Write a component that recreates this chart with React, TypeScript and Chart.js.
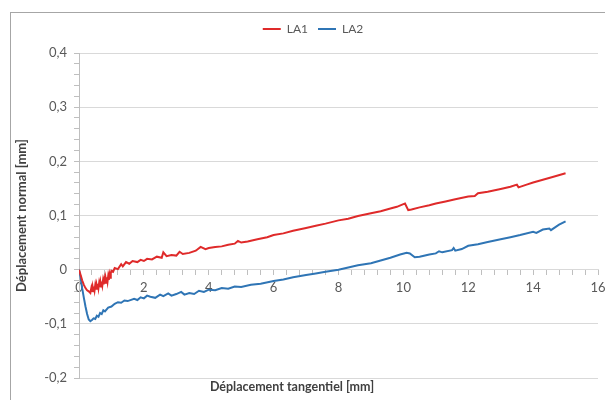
import React, { useEffect, useRef } from 'react';
import { Chart, registerables } from 'chart.js';

Chart.register(...registerables);

const seriesNames = ['LA1', 'LA2'];
const seriesColors = ['#df2a2a', '#2f75b5'];

const la1X = [0, 0.05, 0.1, 0.15, 0.2, 0.25, 0.3, 0.35, 0.38, 0.4, 0.42, 0.44, 0.46, 0.48, 0.5, 0.52, 0.54, 0.56, 0.58, 0.6, 0.62, 0.64, 0.66, 0.68, 0.7, 0.72, 0.74, 0.76, 0.78, 0.8, 0.82, 0.84, 0.86, 0.88, 0.9, 0.92, 0.94, 0.96, 0.98, 1.0, 1.05, 1.1, 1.2, 1.3, 1.35, 1.45, 1.55, 1.65, 1.8, 1.9, 2.0, 2.1, 2.25, 2.4, 2.55, 2.6, 2.7, 2.85, 3.0, 3.1, 3.2, 3.4, 3.6, 3.75, 3.9, 4.0, 4.2, 4.4, 4.6, 4.8, 4.9, 5.0, 5.2, 5.5, 5.8, 6.0, 6.3, 6.6, 7.0, 7.3, 7.6, 8.0, 8.3, 8.6, 9.0, 9.3, 9.6, 9.8, 10.0, 10.05, 10.15, 10.25, 10.5, 10.8, 11.0, 11.3, 11.6, 12.0, 12.2, 12.3, 12.6, 13.0, 13.3, 13.5, 13.55, 13.8, 14.0, 14.3, 14.6, 15.0];
const la1Y = [0, -0.01, -0.02, -0.028, -0.034, -0.038, -0.04, -0.043, -0.034, -0.041, -0.032, -0.04, -0.031, -0.038, -0.029, -0.037, -0.028, -0.035, -0.026, -0.034, -0.025, -0.032, -0.023, -0.031, -0.022, -0.029, -0.02, -0.027, -0.018, -0.026, -0.016, -0.024, -0.014, -0.022, -0.012, -0.019, -0.009, -0.015, -0.006, -0.002, -0.004, 0.003, 0.001, 0.01, 0.006, 0.014, 0.011, 0.016, 0.014, 0.018, 0.016, 0.02, 0.019, 0.024, 0.022, 0.032, 0.025, 0.027, 0.026, 0.033, 0.029, 0.031, 0.035, 0.042, 0.038, 0.04, 0.042, 0.043, 0.046, 0.048, 0.053, 0.05, 0.052, 0.056, 0.06, 0.064, 0.067, 0.072, 0.077, 0.081, 0.085, 0.091, 0.094, 0.099, 0.104, 0.108, 0.113, 0.116, 0.121, 0.122, 0.11, 0.111, 0.115, 0.119, 0.122, 0.126, 0.13, 0.135, 0.136, 0.141, 0.144, 0.149, 0.153, 0.157, 0.152, 0.157, 0.161, 0.166, 0.171, 0.178];

const la2X = [0, 0.05, 0.1, 0.15, 0.2, 0.25, 0.3, 0.35, 0.4, 0.45, 0.5, 0.55, 0.6, 0.65, 0.7, 0.75, 0.8, 0.9, 1.0, 1.1, 1.2, 1.3, 1.4, 1.5, 1.7, 1.8, 1.9, 2.0, 2.1, 2.2, 2.35, 2.5, 2.6, 2.75, 2.85, 3.0, 3.15, 3.25, 3.4, 3.55, 3.7, 3.85, 4.0, 4.2, 4.4, 4.6, 4.8, 5.0, 5.3, 5.6, 6.0, 6.3, 6.6, 7.0, 7.3, 7.6, 8.0, 8.3, 8.6, 9.0, 9.3, 9.6, 9.9, 10.1, 10.2, 10.35, 10.5, 10.8, 11.0, 11.1, 11.2, 11.5, 11.55, 11.6, 11.8, 12.0, 12.3, 12.6, 13.0, 13.3, 13.6, 14.0, 14.1, 14.3, 14.5, 14.55, 14.8, 15.0];
const la2Y = [0, -0.015, -0.035, -0.052, -0.068, -0.082, -0.092, -0.095, -0.093, -0.09, -0.091, -0.085, -0.087, -0.08, -0.082, -0.075, -0.077, -0.07, -0.068, -0.063, -0.06, -0.061, -0.057, -0.058, -0.054, -0.056, -0.051, -0.053, -0.048, -0.05, -0.052, -0.046, -0.049, -0.044, -0.048, -0.045, -0.041, -0.046, -0.043, -0.045, -0.039, -0.041, -0.037, -0.038, -0.034, -0.035, -0.031, -0.032, -0.028, -0.026, -0.021, -0.018, -0.014, -0.01, -0.007, -0.004, 0.0, 0.004, 0.008, 0.012, 0.017, 0.022, 0.028, 0.031, 0.03, 0.023, 0.024, 0.028, 0.03, 0.034, 0.032, 0.036, 0.04, 0.035, 0.038, 0.044, 0.047, 0.051, 0.056, 0.06, 0.064, 0.07, 0.068, 0.074, 0.076, 0.073, 0.083, 0.089];

const xMajorTicks = [0, 2, 4, 6, 8, 10, 12, 14, 16];
const yMajorTicks = [-0.2, -0.1, 0, 0.1, 0.2, 0.3, 0.4];
const xTitle = 'Déplacement tangentiel [mm]';
const yTitle = 'Déplacement normal [mm]';

const FONT = 'Lato, "Open Sans", sans-serif';

const isMajor = (v: number, list: number[]) => list.some((m) => Math.abs(m - v) < 1e-6);
const fmt = (v: number) => (Math.abs(v) < 1e-9 ? '0' : v.toFixed(1).replace('.', ','));

export default function App() {
  const ref = useRef<HTMLCanvasElement | null>(null);

  useEffect(() => {
    if (!ref.current) return;
    const framePlugin = {
      id: 'frameAndTitle',
      beforeInit(chart: any) {
        const legend = chart.legend;
        if (legend) {
          const orig = legend.fit;
          legend.fit = function () {
            orig.call(this);
            this.height += 8;
          };
        }
      },
      afterLayout(chart: any) {
        const l = chart.legend;
        if (l) {
          l.left += 9;
          l.right += 9;
        }
      },
      beforeDraw(chart: any) {
        const ctx = chart.ctx;
        ctx.save();
        ctx.fillStyle = '#ffffff';
        ctx.fillRect(0, 0, chart.width, chart.height);
        ctx.strokeStyle = '#a6a6a6';
        ctx.lineWidth = 1;
        ctx.strokeRect(10.5, 12.5, 700, 500);
        ctx.restore();
      },
      afterDraw(chart: any) {
        const ctx = chart.ctx;
        ctx.save();
        ctx.font = 'bold 12.5px ' + FONT;
        ctx.fillStyle = '#404040';
        ctx.textAlign = 'center';
        ctx.textBaseline = 'middle';
        ctx.fillText(xTitle, 292, 387);
        ctx.restore();
      },
    };

    const chart = new Chart(ref.current, {
      type: 'line',
      data: {
        datasets: [
          {
            label: seriesNames[0],
            data: la1X.map((x, i) => ({ x, y: la1Y[i] })),
            borderColor: seriesColors[0],
            backgroundColor: seriesColors[0],
            borderWidth: 2,
            pointRadius: 0,
            tension: 0,
          },
          {
            label: seriesNames[1],
            data: la2X.map((x, i) => ({ x, y: la2Y[i] })),
            borderColor: seriesColors[1],
            backgroundColor: seriesColors[1],
            borderWidth: 2,
            pointRadius: 0,
            tension: 0,
          },
        ],
      },
      options: {
        responsive: false,
        animation: false,
        layout: { padding: { left: 10, top: 13, right: 7, bottom: 22 } },
        plugins: {
          legend: {
            display: true,
            position: 'top',
            labels: {
              usePointStyle: true,
              pointStyle: 'line',
              pointStyleWidth: 18,
              color: '#595959',
              font: { family: FONT, size: 12 },
              padding: 10,
            },
          },
          tooltip: { enabled: false },
          title: { display: false },
        },
        scales: {
          x: {
            type: 'linear',
            position: { y: 0 } as any,
            min: 0,
            max: 16,
            afterFit(scale: any) {
              scale.paddingLeft = 0;
              scale.paddingRight = 0;
            },
            ticks: {
              stepSize: 0.4,
              autoSkip: false,
              maxRotation: 0,
              padding: 5,
              color: '#595959',
              font: { family: FONT, size: 13 },
              callback: (v: any) => (isMajor(Number(v), xMajorTicks) ? String(Math.round(Number(v))) : ''),
            },
            grid: {
              drawOnChartArea: false,
              drawTicks: true,
              tickLength: 5,
              tickColor: '#bfbfbf',
            },
            border: { display: true, color: '#d9d9d9' },
          },
          y: {
            type: 'linear',
            position: 'left',
            min: -0.2,
            max: 0.4,
            afterFit(scale: any) {
              scale.width = 69;
              scale.paddingTop = 0;
              scale.paddingBottom = 0;
            },
            ticks: {
              stepSize: 0.02,
              autoSkip: false,
              padding: 7,
              color: '#595959',
              font: { family: FONT, size: 13 },
              callback: (v: any) => (isMajor(Number(v), yMajorTicks) ? fmt(Number(v)) : ''),
            },
            grid: {
              drawOnChartArea: true,
              drawTicks: true,
              tickLength: 5,
              tickColor: '#bfbfbf',
              color: (c: any) => (c.tick && isMajor(c.tick.value, yMajorTicks) ? '#d9d9d9' : 'rgba(0,0,0,0)'),
            },
            border: { display: true, color: '#bfbfbf' },
            title: {
              display: true,
              text: yTitle,
              color: '#404040',
              font: { family: FONT, size: 13, weight: 'bold' },
              padding: { top: 4, bottom: 0 },
            },
          },
        },
      },
      plugins: [framePlugin],
    } as any);

    return () => chart.destroy();
  }, []);

  return (
    <div style={{ position: 'fixed', left: 0, top: 0, width: 605, height: 400, background: '#fff' }}>
      <canvas ref={ref} width={605} height={400} style={{ display: 'block' }} />
    </div>
  );
}
